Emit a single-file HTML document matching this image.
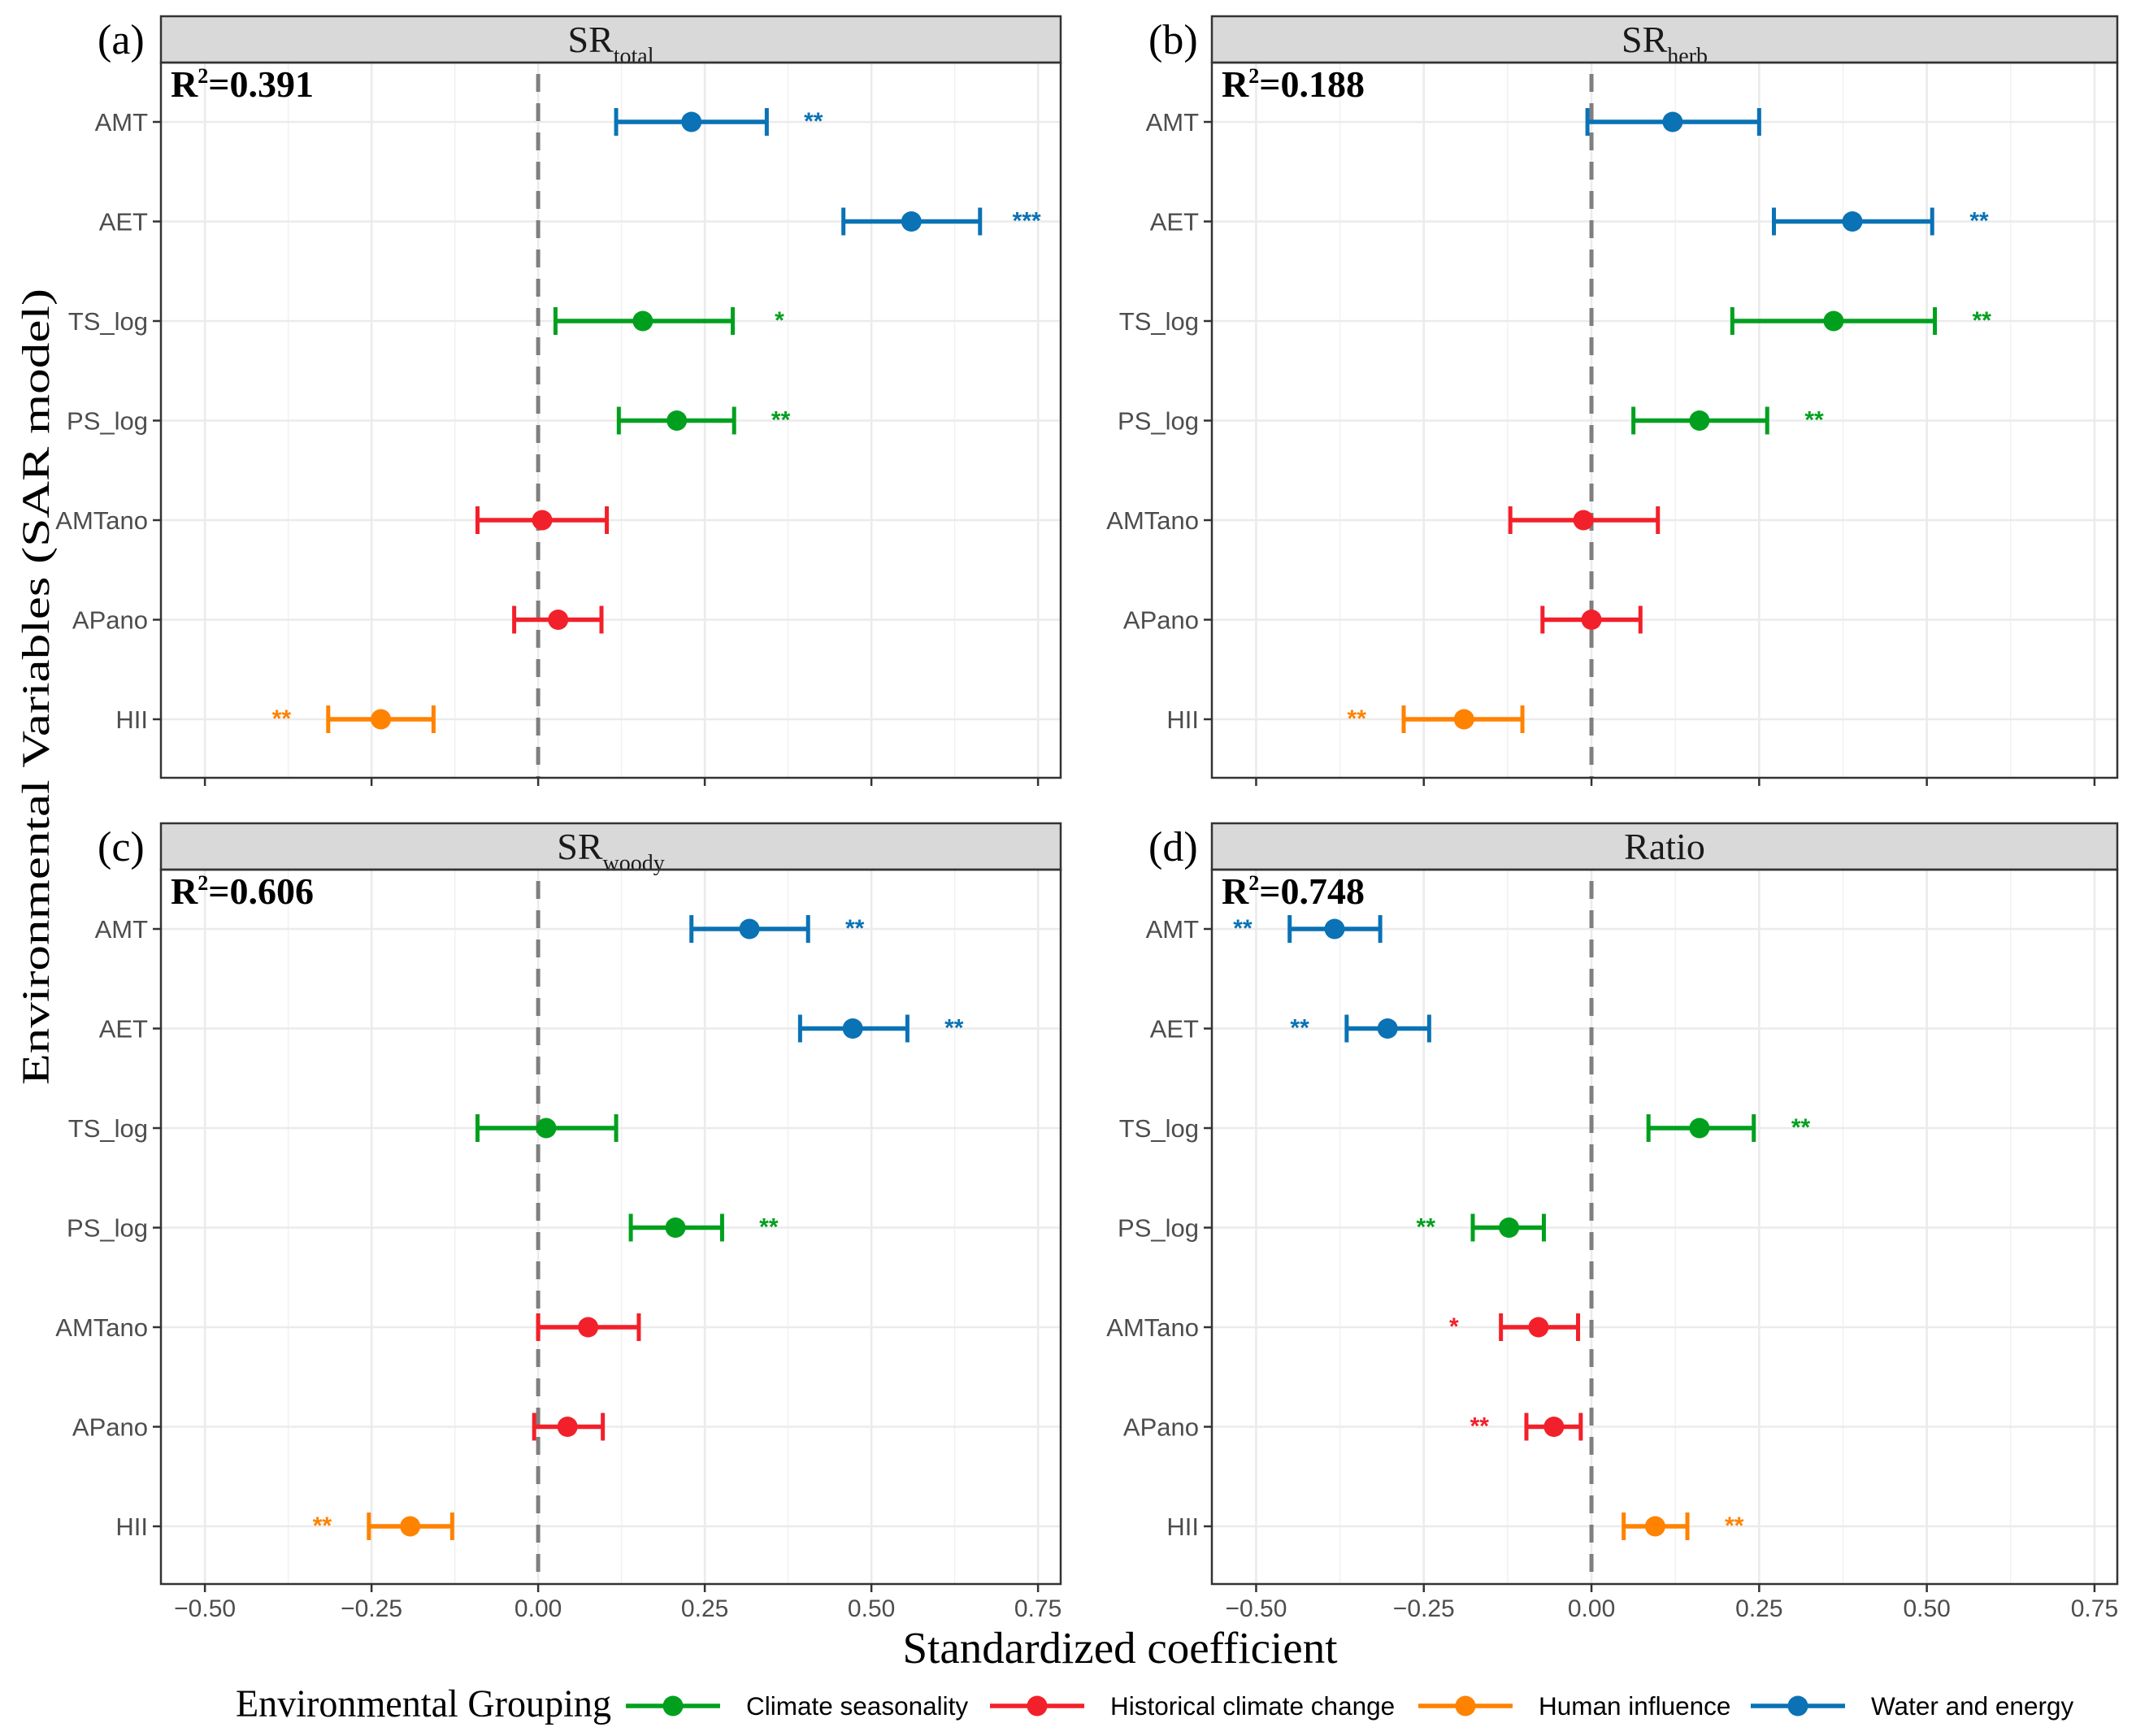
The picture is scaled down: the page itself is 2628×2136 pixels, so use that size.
<!DOCTYPE html>
<html><head><meta charset="utf-8"><style>
html,body{margin:0;padding:0;background:#fff;}
svg{display:block;}
</style></head><body>
<svg id="chart" xmlns="http://www.w3.org/2000/svg" width="2628" height="2136" viewBox="0 0 2628 2136"></svg>
<script>
const variables = ["AMT","AET","TS_log","PS_log","AMTano","APano","HII"];
const groups = ["water","water","season","season","hist","hist","human"];
const panelTitles = ["total","herb","woody","Ratio"];
const panelLetters = ["(a)","(b)","(c)","(d)"];
const r2Labels = ["0.391","0.188","0.606","0.748"];
const xTicks = [-0.5,-0.25,0,0.25,0.5,0.75];
const xTickLabels = ["-0.50","-0.25","0.00","0.25","0.50","0.75"];
const estA = [0.23,0.56,0.157,0.208,0.006,0.03,-0.236];
const loA  = [0.117,0.458,0.026,0.121,-0.091,-0.036,-0.315];
const hiA  = [0.343,0.663,0.292,0.294,0.103,0.095,-0.157];
const sigA = ["**","***","*","**","","","**"];
const estB = [0.121,0.389,0.361,0.161,-0.012,0,-0.19];
const loB  = [-0.006,0.272,0.21,0.0625,-0.121,-0.073,-0.28];
const hiB  = [0.25,0.508,0.512,0.262,0.099,0.073,-0.103];
const sigB = ["","**","**","**","","","**"];
const estC = [0.317,0.472,0.012,0.206,0.075,0.044,-0.192];
const loC  = [0.23,0.393,-0.091,0.139,0,-0.006,-0.254];
const hiC  = [0.405,0.554,0.117,0.276,0.151,0.097,-0.129];
const sigC = ["**","**","","**","","","**"];
const estD = [-0.383,-0.304,0.161,-0.123,-0.079,-0.056,0.095];
const loD  = [-0.45,-0.365,0.085,-0.177,-0.135,-0.097,0.048];
const hiD  = [-0.315,-0.242,0.242,-0.071,-0.02,-0.016,0.143];
const sigD = ["**","**","**","**","*","**","**"];
const legendLabels = ["Climate seasonality","Historical climate change","Human influence","Water and energy"];
const legendKeys = ["season","hist","human","water"];

const colors = {water:"#0a72b5",season:"#00a01e",hist:"#f2202a",human:"#ff8200"};
const NS="http://www.w3.org/2000/svg";
const svg=document.getElementById('chart');
function mk(tag,attrs,parent){const e=document.createElementNS(NS,tag);for(const k in attrs)e.setAttribute(k,attrs[k]);(parent||svg).appendChild(e);return e;}

const panels=[
 {x0:198,x1:1305,sy:20,py:77,pb:957,est:estA,lo:loA,hi:hiA,sig:sigA},
 {x0:1491,x1:2605,sy:20,py:77,pb:957,est:estB,lo:loB,hi:hiB,sig:sigB},
 {x0:198,x1:1305,sy:1013,py:1070,pb:1949,est:estC,lo:loC,hi:hiC,sig:sigC},
 {x0:1491,x1:2605,sy:1013,py:1070,pb:1949,est:estD,lo:loD,hi:hiD,sig:sigD}
];
const XMIN=-0.566, XMAX=0.784;
panels.forEach((p,i)=>{
  const g=mk('g',{});
  
  
  const xs=v=>p.x0+(v-XMIN)/(XMAX-XMIN)*(p.x1-p.x0);
  const ys=k=>p.py+73+k*122.5;
  for(let v=-0.625;v<=0.8;v+=0.25){const x=xs(v);if(x>p.x0&&x<p.x1)mk('line',{x1:x,x2:x,y1:p.py,y2:p.pb,stroke:'#f0f0f0','stroke-width':1.4},g);}
  xTicks.forEach(v=>{const x=xs(v);mk('line',{x1:x,x2:x,y1:p.py,y2:p.pb,stroke:'#ebebeb','stroke-width':2.6},g);});
  variables.forEach((n,k)=>{mk('line',{x1:p.x0,x2:p.x1,y1:ys(k),y2:ys(k),stroke:'#ebebeb','stroke-width':2.6},g);});
  const st=mk('rect',{x:p.x0,y:p.sy,width:p.x1-p.x0,height:p.py-p.sy,fill:'#d9d9d9',stroke:'#333','stroke-width':2.5},g);
  
  
  const cx=(p.x0+p.x1)/2;
  const t=mk('text',{x:cx,y:p.sy+44,'text-anchor':'middle','font-family':'Liberation Serif, serif','font-size':46,fill:'#1a1a1a'},g);
  
  
  if(panelTitles[i]==='Ratio'){t.textContent='Ratio';}
  else{t.textContent='SR';const s=mk('tspan',{dy:14,'font-size':28},t);s.textContent=panelTitles[i];}
  const pl=mk('text',{x:p.x0-78,y:p.sy+46,'font-family':'Liberation Serif, serif','font-size':52,fill:'#000'},g);
  pl.textContent=panelLetters[i];
  
  
  const r=mk('text',{x:p.x0+12,y:p.py+42,'font-family':'Liberation Serif, serif','font-size':46,'font-weight':'bold',fill:'#000'},g);
  
  
  r.textContent='R';const sp=mk('tspan',{dy:-17,'font-size':26},r);sp.textContent='2';const sp2=mk('tspan',{dy:17},r);sp2.textContent='='+r2Labels[i];
  mk('line',{x1:xs(0),x2:xs(0),y1:p.py+14,y2:p.pb,stroke:'#7f7f7f','stroke-width':5,'stroke-dasharray':'22,14'},g);
  variables.forEach((n,k)=>{
    mk('line',{x1:p.x0-10,x2:p.x0,y1:ys(k),y2:ys(k),stroke:'#333','stroke-width':2.5},g);
    const yl=mk('text',{x:p.x0-16,y:ys(k)+11,'text-anchor':'end','font-family':'Liberation Sans, sans-serif','font-size':31,fill:'#4d4d4d'},g);
    yl.textContent=n;
    
    
  });
  variables.forEach((n,k)=>{
    const c=colors[groups[k]],y=ys(k);
    const eb=mk('g',{},g);
    
    
    mk('line',{x1:xs(p.lo[k]),x2:xs(p.hi[k]),y1:y,y2:y,stroke:c,'stroke-width':5.5},eb);
    mk('line',{x1:xs(p.lo[k]),x2:xs(p.lo[k]),y1:y-17,y2:y+17,stroke:c,'stroke-width':5},eb);
    mk('line',{x1:xs(p.hi[k]),x2:xs(p.hi[k]),y1:y-17,y2:y+17,stroke:c,'stroke-width':5},eb);
    const pt=mk('circle',{cx:xs(p.est[k]),cy:y,r:12.5,fill:c},eb);
    
    
    if(p.sig[k]){
      const right=p.est[k]>=0;
      const sx=right?xs(p.hi[k]+0.07):xs(p.lo[k]-0.07);
      const sg=mk('text',{x:sx,y:y+9,'text-anchor':'middle','font-family':'Liberation Sans, sans-serif','font-size':30,'font-weight':'bold',fill:c},g);
      sg.textContent=p.sig[k];
      
      
    }
  });
  const fr=mk('rect',{x:p.x0,y:p.py,width:p.x1-p.x0,height:p.pb-p.py,fill:'none',stroke:'#333','stroke-width':2.5},g);
  
  
  if(i>=2){xTicks.forEach((v,j)=>{
    mk('line',{x1:xs(v),x2:xs(v),y1:p.pb,y2:p.pb+10,stroke:'#333','stroke-width':2.5},g);
    const tl=mk('text',{x:xs(v),y:p.pb+40,'text-anchor':'middle','font-family':'Liberation Sans, sans-serif','font-size':30,fill:'#4d4d4d'},g);
    tl.textContent=xTickLabels[j].replace('-','\u2212');
    
    
  });}
  else{xTicks.forEach(v=>{mk('line',{x1:xs(v),x2:xs(v),y1:p.pb,y2:p.pb+10,stroke:'#333','stroke-width':2.5},g);});}
});
const xt=mk('text',{x:1378,y:2046,'text-anchor':'middle','font-family':'Liberation Serif, serif','font-size':55,fill:'#000'});
xt.textContent='Standardized coefficient';


const yt=mk('text',{x:0,y:0,'text-anchor':'middle','font-family':'Liberation Serif, serif','font-size':48,fill:'#000',textLength:980,lengthAdjust:'spacingAndGlyphs',transform:'translate(60,845) rotate(-90)'});
yt.textContent='Environmental Variables (SAR model)';


const lg=mk('g',{});


const lt=mk('text',{x:290,y:2112,'font-family':'Liberation Serif, serif','font-size':48,fill:'#000',textLength:462,lengthAdjust:'spacingAndGlyphs'},lg);
lt.textContent='Environmental Grouping';
const keyX=[770,1218,1745,2154];
legendLabels.forEach((lab,j)=>{
  const e=mk('g',{},lg);
  
  
  const c=colors[legendKeys[j]];
  mk('line',{x1:keyX[j],x2:keyX[j]+116,y1:2099,y2:2099,stroke:c,'stroke-width':5.5},e);
  mk('circle',{cx:keyX[j]+58,cy:2099,r:12.5,fill:c},e);
  const tx=mk('text',{x:keyX[j]+148,y:2110,'font-family':'Liberation Sans, sans-serif','font-size':31.5,fill:'#000'},e);
  tx.textContent=lab;
});
</script>
</body></html>
